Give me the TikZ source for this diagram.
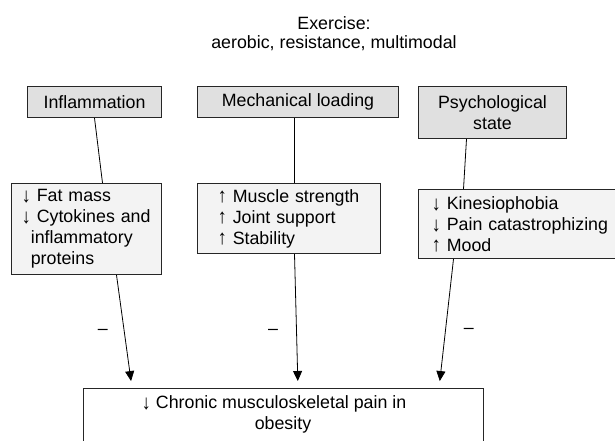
\documentclass[tikz,border=0pt]{standalone}
\usepackage{fontspec}
\setmainfont{Liberation Sans}
\usetikzlibrary{arrows.meta,positioning,calc}

\definecolor{factorfill}{HTML}{E0E0E0}
\definecolor{effectfill}{HTML}{F3F3F3}
\definecolor{edgegrey}{HTML}{262626}

\newcommand{\arrup}{\scalebox{1.05}[1.15]{↑}}
\newcommand{\arrdn}{\raisebox{-0.06em}{\scalebox{1.05}[1.15]{↓}}}

\tikzset{
  txt/.style={font=\fontsize{17.8}{21}\selectfont},
  factor/.style={txt, draw=edgegrey, line width=1pt, fill=factorfill, align=center, inner sep=0pt, anchor=north west},
  effect/.style={txt, draw=edgegrey, line width=1pt, fill=effectfill, align=left, inner ysep=0pt, anchor=north west},
  link/.style={line width=0.8pt},
  arr/.style={link, -{Triangle[length=10pt,width=9pt]}, shorten >=7pt},
  sign/.style={txt, inner sep=0pt}
}

\begin{document}
\begin{tikzpicture}[x=1pt,y=-1pt]
        \useasboundingbox (0,0) rectangle (615,440);
        \clip (0,0) rectangle (615,440);

        \node[txt, align=center, font=\fontsize{17.8}{19}\selectfont] (title) at (334,34) {Exercise:\\aerobic, resistance, multimodal};

        \node[factor, minimum width=134, minimum height=31] (inflam) at (27,86) {Inflammation};
        \node[factor, minimum width=201, minimum height=31] (mech) at (197,86) {Mechanical loading};
        \node[factor, minimum width=148, minimum height=52] (psych) at (418,86) {Psychological\\state};

        \node[effect, text width=130, inner xsep=10, minimum height=91] (fat) at (11,183)
            {\arrdn\ Fat mass\\\arrdn\ Cytokines and\\\phantom{\arrdn}inflammatory\\\phantom{\arrdn}proteins};
        \node[effect, text width=143, inner xsep=20, minimum height=70] (muscle) at (197,183)
            {\arrup\ Muscle strength\\\arrup\ Joint support\\\arrup\ Stability};
        \node[effect, text width=190, inner xsep=13, minimum height=69] (kinesio) at (418,189)
            {\arrdn\ Kinesiophobia\\\arrdn\ Pain catastrophizing\\\arrup\ Mood};

        \node[txt, draw=edgegrey, line width=1pt, fill=white, align=center, anchor=north,
              minimum width=400, inner ysep=7, text depth=40pt] (pain) at (283,388)
            {\arrdn\ Chronic musculoskeletal pain in\hspace*{18pt}\\obesity};

        \draw[link] (inflam.south) -- ([xshift=16pt]fat.north);
        \draw[link] ([xshift=-3.5pt]mech.south) -- ([xshift=5.5pt]muscle.north);
        \draw[link] ([xshift=-26pt]psych.south) -- ([xshift=-63pt]kinesio.north);

        \draw[arr] ([xshift=30pt]fat.south) -- node[sign, pos=0.5, left=16pt] (m1) {–} ([xshift=-151pt]pain.north);
        \draw[arr] ([xshift=5.5pt]muscle.south) -- node[sign, pos=0.58, left=18pt] (m2) {–} ([xshift=15pt]pain.north);
        \draw[arr] ([xshift=-73pt]kinesio.south) -- node[sign, pos=0.56, right=18pt] (m3) {–} ([xshift=156pt]pain.north);

\end{tikzpicture}
\end{document}
